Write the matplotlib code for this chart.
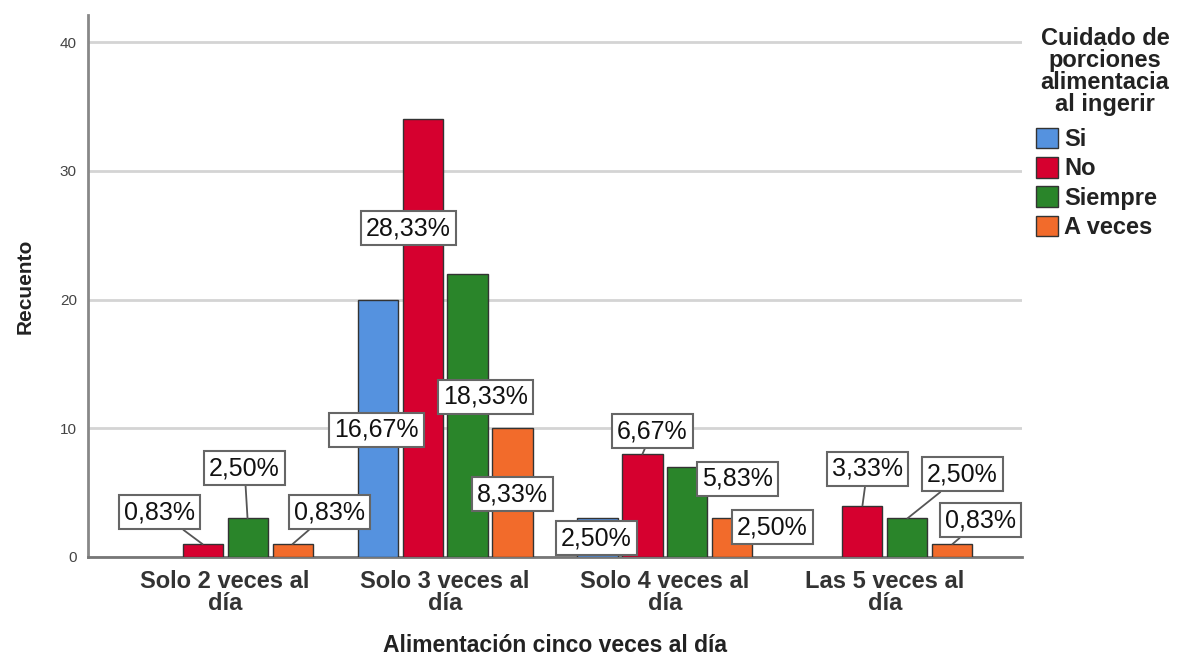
import matplotlib
matplotlib.use("Agg")
from matplotlib import pyplot as plt
from matplotlib.patches import Patch
import numpy as np

plt.rcParams['font.family'] = ['Liberation Sans', 'DejaVu Sans']

# counts per frequency group and answer
categories = ["Solo 2 veces al\ndía", "Solo 3 veces al\ndía", "Solo 4 veces al\ndía", "Las 5 veces al\ndía"]
series = ["Si", "No", "Siempre", "A veces"]
si = [0, 20, 3, 0]
no = [1, 34, 8, 4]
siempre = [3, 22, 7, 3]
a_veces = [1, 10, 3, 1]
total = 120

colors = ["#5592df", "#d6002f", "#2a852a", "#f26b2b"]

# where each percentage box sits relative to the top of its bar (pixels), and
# whether a leader line joins them
label_offsets = [
    [None, (-1, -130), (-1, -20), None],
    [(-43, 32), (-14, -109), (10, 23), (5, 37)],
    [(-3, 50), (18, -123), (50, -12), (55, 44)],
    [(37, 32), (0, -66), (40, -9), (28, 24)],
]
leaders = [
    [False, False, False, False],
    [True, False, True, True],
    [True, False, False, True],
    [True, False, False, True],
]

values = [si, no, siempre, a_veces]

fig = plt.figure(figsize=(11.79, 6.57), dpi=100)
ax = fig.add_axes([88 / 1179, 100 / 657, (1022 - 88) / 1179, (557 - 15) / 657])

x = np.arange(len(categories))
step = 0.2045
width = 0.182

for i, (name, vals) in enumerate(zip(series, values)):
    xs = x + (i - 1.5) * step
    for j, v in enumerate(vals):
        if v == 0:
            continue
        ax.bar(xs[j], v, width, color=colors[i], edgecolor="#333333",
               linewidth=1.0, zorder=3)
        dx, dy = label_offsets[i][j]
        pct = f"{v / total * 100:.2f}%".replace(".", ",")
        arrow = dict(arrowstyle="-", color="#555555", lw=1.3,
                     shrinkA=0, shrinkB=0) if leaders[i][j] else None
        ax.annotate(pct, xy=(xs[j], v), xytext=(dx, dy),
                    textcoords="offset pixels", ha="center", va="center",
                    fontsize=18, color="#111111", zorder=5,
                    bbox=dict(boxstyle="square,pad=0.2", fc="white",
                              ec="#666666", lw=1.5),
                    arrowprops=arrow)

ax.set_xlim(-0.623, 3.623)
ax.set_ylim(0, 42.1)
ax.set_yticks([0, 10, 20, 30, 40])
ax.grid(axis="y", color="#d4d4d4", lw=2, zorder=0)
ax.set_axisbelow(True)

for s in ["top", "right"]:
    ax.spines[s].set_visible(False)
ax.spines["left"].set_color("#888888")
ax.spines["left"].set_linewidth(2)
ax.spines["bottom"].set_color("#777777")
ax.spines["bottom"].set_linewidth(2)
ax.tick_params(axis="both", length=0)
ax.tick_params(axis="y", labelsize=11, labelcolor="#444444", pad=8)
ax.tick_params(axis="x", pad=9)
ax.set_xticks(x)
ax.set_xticklabels(categories, fontsize=17, fontweight="bold",
                   color="#333333", linespacing=0.95)

ax.set_ylabel("Recuento", fontsize=15, fontweight="bold", color="#222222",
              labelpad=18)
ax.set_xlabel("Alimentación cinco veces al día", fontsize=16.5,
              fontweight="bold", color="#222222", labelpad=14)

# legend: title as its own text block, colour keys underneath
fig.text(1105 / 1179, 1 - 27 / 657,
         "Cuidado de\nporciones\nalimentacia\nal ingerir",
         ha="center", va="top", multialignment="center", fontsize=17,
         fontweight="bold", color="#222222", linespacing=0.95)
handles = [Patch(facecolor=c, edgecolor="#333333", lw=1.0) for c in colors]
leg = fig.legend(handles, series, loc="upper left",
                 bbox_to_anchor=(1036 / 1179, 1 - 128 / 657),
                 frameon=False, prop=dict(size=17, weight="bold"),
                 handlelength=0.95, handleheight=0.95, handletextpad=0.25,
                 labelspacing=0.25, borderpad=0, borderaxespad=0)
for t in leg.get_texts():
    t.set_color("#222222")

fig.savefig("out.png", dpi=100)
